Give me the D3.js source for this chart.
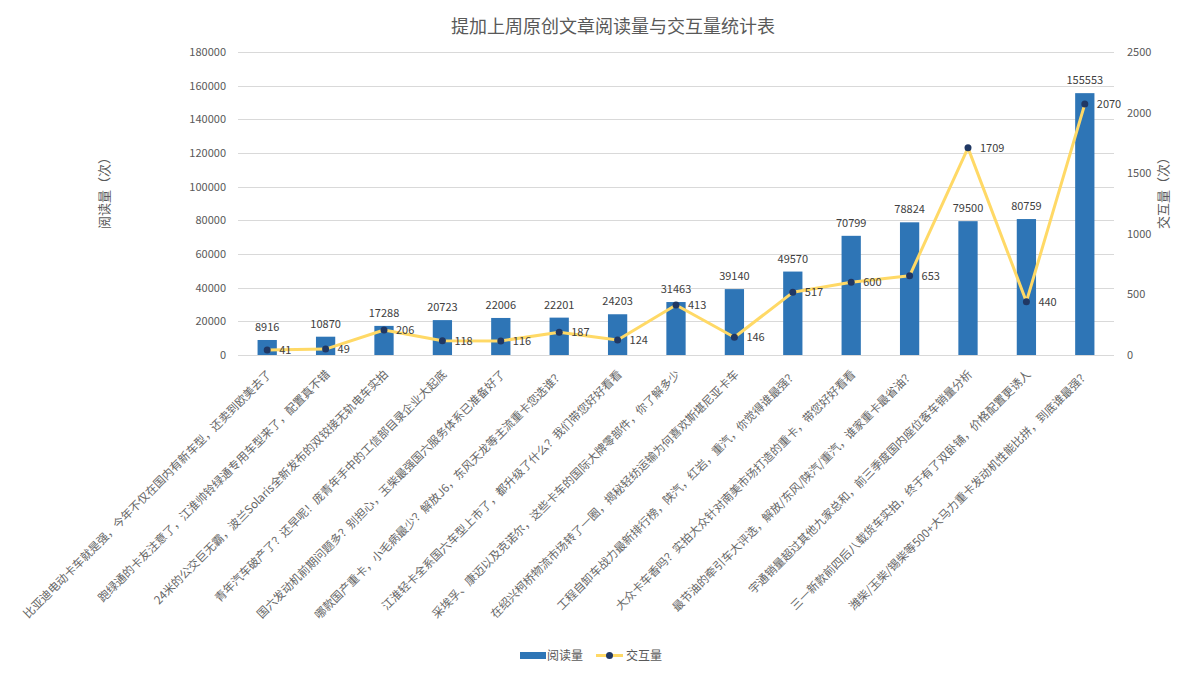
<!DOCTYPE html>
<html>
<head>
<meta charset="utf-8">
<script src="https://cdn.jsdelivr.net/npm/d3@7"></script>
<style>
  body { margin: 0; background: #fff; }
  svg text { font-family: "Noto Sans CJK SC", "Noto Sans", sans-serif; }
</style>
</head>
<body>
<svg id="chart" width="1178" height="674"></svg>
<script>
// 文章标题
var titles = [
  "比亚迪电动卡车就是强，今年不仅在国内有新车型，还卖到欧美去了",
  "跑绿通的卡友注意了，江淮帅铃绿通专用车型来了，配置真不错",
  "24米的公交巨无霸，波兰Solaris全新发布的双铰接无轨电车实拍",
  "青年汽车破产了？还早呢！庞青年手中的工信部目录企业大起底",
  "国六发动机前期问题多？别担心，玉柴最强国六服务体系已准备好了",
  "哪款国产重卡，小毛病最少？解放J6，东风天龙等主流重卡您选谁？",
  "江淮轻卡全系国六车型上市了，都升级了什么？我们带您好好看看",
  "采埃孚、康迈以及克诺尔，这些卡车的国际大牌零部件，你了解多少",
  "在绍兴柯桥物流市场转了一圈，揭秘轻纺运输为何喜欢斯堪尼亚卡车",
  "工程自卸车战力最新排行榜，陕汽，红岩，重汽，你觉得谁最强？",
  "大众卡车香吗？实拍大众针对南美市场打造的重卡，带您好好看看",
  "最节油的牵引车大评选，解放/东风/陕汽/重汽，谁家重卡最省油？",
  "宇通销量超过其他九家总和，前三季度国内座位客车销量分析",
  "三一新款前四后八载货车实拍，终于有了双卧铺，价格配置更诱人",
  "潍柴/玉柴/锡柴等500+大马力重卡发动机性能比拼，到底谁最强？"
];
var reads = [8916, 10870, 17288, 20723, 22006, 22201, 24203, 31463, 39140, 49570, 70799, 78824, 79500, 80759, 155553];
var interactions = [41, 49, 206, 118, 116, 187, 124, 413, 146, 517, 600, 653, 1709, 440, 2070];
var leftTicks = [0, 20000, 40000, 60000, 80000, 100000, 120000, 140000, 160000, 180000];
var rightTicks = [0, 500, 1000, 1500, 2000, 2500];

var svg = d3.select('#chart');
var plotL = 238, plotR = 1114, plotT = 52, plotB = 355;

var x = d3.scaleBand().domain(d3.range(titles.length)).range([plotL, plotR]).paddingInner(0.67).paddingOuter(0.335);
var y1 = d3.scaleLinear().domain([0, 180000]).range([plotB, plotT]);
var y2 = d3.scaleLinear().domain([0, 2500]).range([plotB, plotT]);
var cx = function(i) { return x(i) + x.bandwidth() / 2; };

// title
svg.append('text')
  .attr('x', 613).attr('y', 33)
  .attr('text-anchor', 'middle')
  .attr('font-size', 18).attr('fill', '#595959')
  .text('提加上周原创文章阅读量与交互量统计表');

// grid
svg.append('g').selectAll('line').data(leftTicks).join('line')
  .attr('x1', plotL).attr('x2', plotR)
  .attr('y1', function(d) { return Math.round(y1(d)) + 0.5; })
  .attr('y2', function(d) { return Math.round(y1(d)) + 0.5; })
  .attr('stroke', '#d9d9d9').attr('stroke-width', 1);

// left axis
var axL = svg.append('g').attr('transform', 'translate(' + (plotL - 12) + ',0)')
  .call(d3.axisLeft(y1).tickValues(leftTicks).tickFormat(d3.format('d')).tickSize(0).tickPadding(0));
axL.select('.domain').remove();
axL.selectAll('text').attr('font-size', 11).attr('fill', '#595959');

// right axis
var axR = svg.append('g').attr('transform', 'translate(' + (plotR + 13) + ',0)')
  .call(d3.axisRight(y2).tickValues(rightTicks).tickFormat(d3.format('d')).tickSize(0).tickPadding(0));
axR.select('.domain').remove();
axR.selectAll('text').attr('font-size', 11).attr('fill', '#595959');

// axis titles
svg.append('text')
  .attr('transform', 'translate(109,190) rotate(-90)')
  .attr('text-anchor', 'middle').attr('font-size', 13).attr('fill', '#595959')
  .text('阅读量（次）');
svg.append('text')
  .attr('transform', 'translate(1168,190) rotate(-90)')
  .attr('text-anchor', 'middle').attr('font-size', 13).attr('fill', '#595959')
  .text('交互量（次）');

// bars
svg.append('g').selectAll('rect').data(reads).join('rect')
  .attr('x', function(d, i) { return x(i); })
  .attr('y', function(d) { return y1(d); })
  .attr('width', x.bandwidth())
  .attr('height', function(d) { return y1(0) - y1(d); })
  .attr('fill', '#2e75b6');

svg.append('g').selectAll('text').data(reads).join('text')
  .attr('x', function(d, i) { return cx(i); })
  .attr('y', function(d) { return y1(d) - 9; })
  .attr('text-anchor', 'middle')
  .attr('font-size', 11).attr('fill', '#404040')
  .text(function(d) { return d; });

// line
var line = d3.line()
  .x(function(d, i) { return cx(i); })
  .y(function(d) { return y2(d); });
svg.append('path').datum(interactions)
  .attr('d', line)
  .attr('fill', 'none').attr('stroke', '#ffd966').attr('stroke-width', 3)
  .attr('stroke-linejoin', 'round');

svg.append('g').selectAll('circle').data(interactions).join('circle')
  .attr('cx', function(d, i) { return cx(i); })
  .attr('cy', function(d) { return y2(d); })
  .attr('r', 3.5).attr('fill', '#203864');

svg.append('g').selectAll('text').data(interactions).join('text')
  .attr('x', function(d, i) { return cx(i) + 12; })
  .attr('y', function(d) { return y2(d); })
  .attr('dy', '0.35em')
  .attr('font-size', 11).attr('fill', '#404040')
  .text(function(d) { return d; });

// category labels
svg.append('g').selectAll('text').data(titles).join('text')
  .attr('transform', function(d, i) { return 'translate(' + (cx(i) + 5) + ',' + (plotB + 20) + ') rotate(-45)'; })
  .attr('text-anchor', 'end')
  .attr('font-size', 11.5).attr('fill', '#666666')
  .text(function(d) { return d; });

// legend
var lg = svg.append('g');
lg.append('rect').attr('x', 520).attr('y', 652).attr('width', 26).attr('height', 7).attr('fill', '#2e75b6');
lg.append('text').attr('x', 547).attr('y', 660).attr('font-size', 12).attr('fill', '#595959').text('阅读量');
lg.append('line').attr('x1', 596).attr('x2', 623).attr('y1', 655.5).attr('y2', 655.5)
  .attr('stroke', '#ffd966').attr('stroke-width', 3);
lg.append('circle').attr('cx', 609.5).attr('cy', 655.5).attr('r', 3.5).attr('fill', '#203864');
lg.append('text').attr('x', 626).attr('y', 660).attr('font-size', 12).attr('fill', '#595959').text('交互量');
</script>
</body>
</html>
